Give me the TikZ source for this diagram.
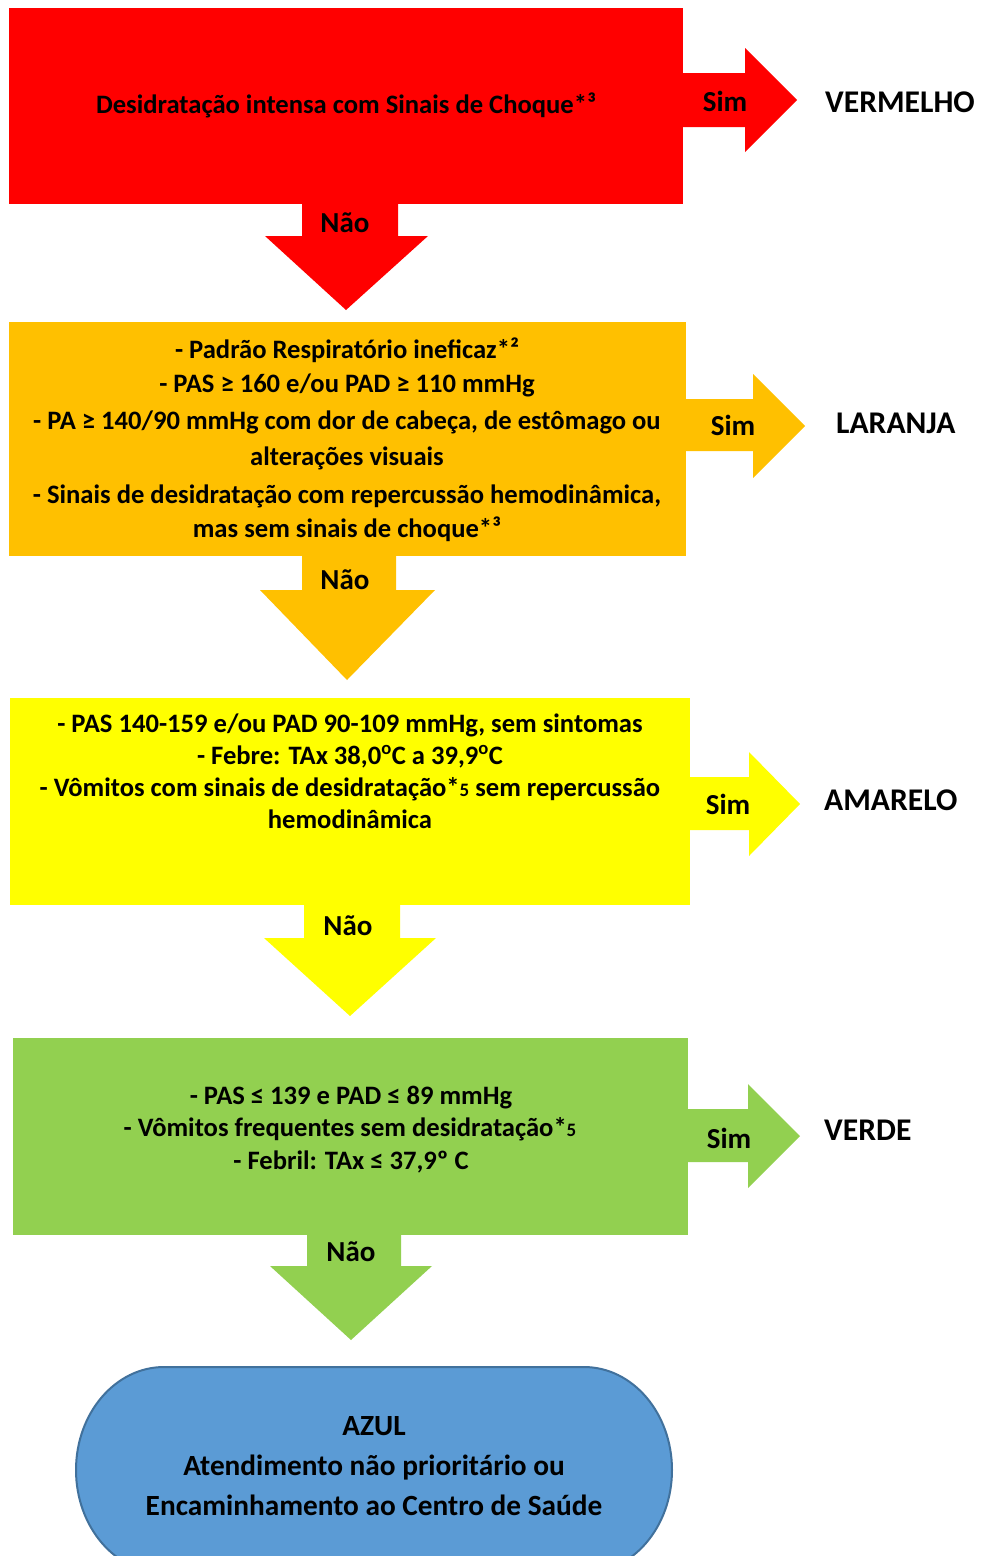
\documentclass[tikz,border=0pt]{standalone}
\usepackage{fontspec}
\setmainfont{Carlito}
\definecolor{cred}{HTML}{FF0000}
\definecolor{corange}{HTML}{FFC000}
\definecolor{cyellow}{HTML}{FFFF00}
\definecolor{cgreen}{HTML}{92D050}
\definecolor{cblue}{HTML}{5B9BD5}
\definecolor{cblueline}{HTML}{41719C}
\begin{document}
\begin{tikzpicture}[x=1pt,y=-1pt,
  box/.style={rectangle,inner sep=0pt,outer sep=0pt,draw=none},
  body/.style={anchor=base,inner sep=0pt,font=\fontsize{26.6}{30}\selectfont\bfseries},
  lbl/.style={anchor=base,inner sep=0pt,font=\fontsize{29}{32}\selectfont\bfseries},
  res/.style={anchor=base west,inner sep=0pt,font=\fontsize{31.6}{34}\selectfont\bfseries},
  azul/.style={anchor=base,inner sep=0pt,font=\fontsize{29.3}{32}\selectfont\bfseries}]
\useasboundingbox (0,0) rectangle (981,1556);
\fill[white] (0,0) rectangle (981,1556);
\clip (0,0) rectangle (981,1556);
\newcommand{\smallfive}{{\fontsize{19}{19}\selectfont 5}}
% ---------- red ----------
\node[box,fill=cred,minimum width=674pt,minimum height=196pt] (red) at (346,106) {};
\fill[cred] (680,73)--(745,73)--(745,48)--(797,100)--(745,152)--(745,127)--(680,127)--cycle;
\fill[cred] (302,200)--(398,200)--(398,236)--(428,236)--(346,310)--(265,236)--(302,236)--cycle;
\node[body] (t1) at (346,113) {Desidratação intensa com Sinais de Choque*³};
\node[lbl] (s1) at (725,111) {Sim};
\node[res] (r1) at (825,112) {VERMELHO};
\node[lbl] (n1) at (345,232) {Não};
% ---------- orange ----------
\node[box,fill=corange,minimum width=677pt,minimum height=234pt] (orange) at (347.5,439) {};
\fill[corange] (683,399)--(753,399)--(753,374)--(805,426)--(753,478)--(753,451)--(683,451)--cycle;
\fill[corange] (302,552)--(396,552)--(396,590)--(435,590)--(347,680)--(260,590)--(302,590)--cycle;
\node[body] (o1) at (347,358) {- Padrão Respiratório ineficaz*²};
\node[body] (o2) at (347,392) {- PAS ≥ 160 e/ou PAD ≥ 110 mmHg};
\node[body] (o3) at (347,429) {- PA ≥ 140/90 mmHg com dor de cabeça, de estômago ou};
\node[body] (o4) at (347,465) {alterações visuais};
\node[body] (o5) at (347,503) {- Sinais de desidratação com repercussão hemodinâmica,};
\node[body] (o6) at (347,537) {mas sem sinais de choque*³};
\node[lbl] (s2) at (733,435) {Sim};
\node[res] (r2) at (836,433) {LARANJA};
\node[lbl] (n2) at (345,589) {Não};
% ---------- yellow ----------
\node[box,fill=cyellow,minimum width=680pt,minimum height=207pt] (yellow) at (350,801.5) {};
\fill[cyellow] (687,777)--(749,777)--(749,752)--(800,804)--(749,856)--(749,830)--(687,830)--cycle;
\fill[cyellow] (304,901)--(400,901)--(400,938)--(436,938)--(350,1016)--(264,938)--(304,938)--cycle;
\node[body] (y1) at (350,732) {- PAS 140-159 e/ou PAD 90-109 mmHg, sem sintomas};
\node[body] (y2) at (350,764) {- Febre: TAx 38,0\textsuperscript{o}C a 39,9\textsuperscript{o}C};
\node[body] (y3) at (350,796) {- Vômitos com sinais de desidratação*\smallfive{} sem repercussão};
\node[body] (y4) at (350,828) {hemodinâmica};
\node[lbl] (s3) at (728,814) {Sim};
\node[res] (r3) at (824,810) {AMARELO};
\node[lbl] (n3) at (348,935) {Não};
% ---------- green ----------
\node[box,fill=cgreen,minimum width=675pt,minimum height=197pt] (green) at (350.5,1136.5) {};
\fill[cgreen] (685,1109)--(748,1109)--(748,1084)--(800,1136)--(748,1188)--(748,1162)--(685,1162)--cycle;
\fill[cgreen] (307,1231)--(401,1231)--(401,1266)--(432,1266)--(351,1340)--(270,1266)--(307,1266)--cycle;
\node[body] (g1) at (351,1104) {- PAS ≤ 139 e PAD ≤ 89 mmHg};
\node[body] (g2) at (350,1136) {- Vômitos frequentes sem desidratação*\smallfive};
\node[body] (g3) at (351,1169) {- Febril: TAx ≤ 37,9º C};
\node[lbl] (s4) at (729,1148) {Sim};
\node[res] (r4) at (824,1140) {VERDE};
\node[lbl] (n4) at (351,1261) {Não};
% ---------- blue ----------
\filldraw[fill=cblue,draw=cblueline,line width=2pt]
  (164,1367) -- (584,1367)
  arc[start angle=90,end angle=0,x radius=88,y radius=-103]
  arc[start angle=0,end angle=-90,x radius=88,y radius=-103]
  -- (164,1573)
  arc[start angle=270,end angle=180,x radius=88,y radius=-103]
  arc[start angle=180,end angle=90,x radius=88,y radius=-103]
  -- cycle;
\node[azul] (b1) at (374,1435) {AZUL};
\node[azul] (b2) at (374,1475) {Atendimento não prioritário ou};
\node[azul] (b3) at (374,1515) {Encaminhamento ao Centro de Saúde};
\end{tikzpicture}
\end{document}
